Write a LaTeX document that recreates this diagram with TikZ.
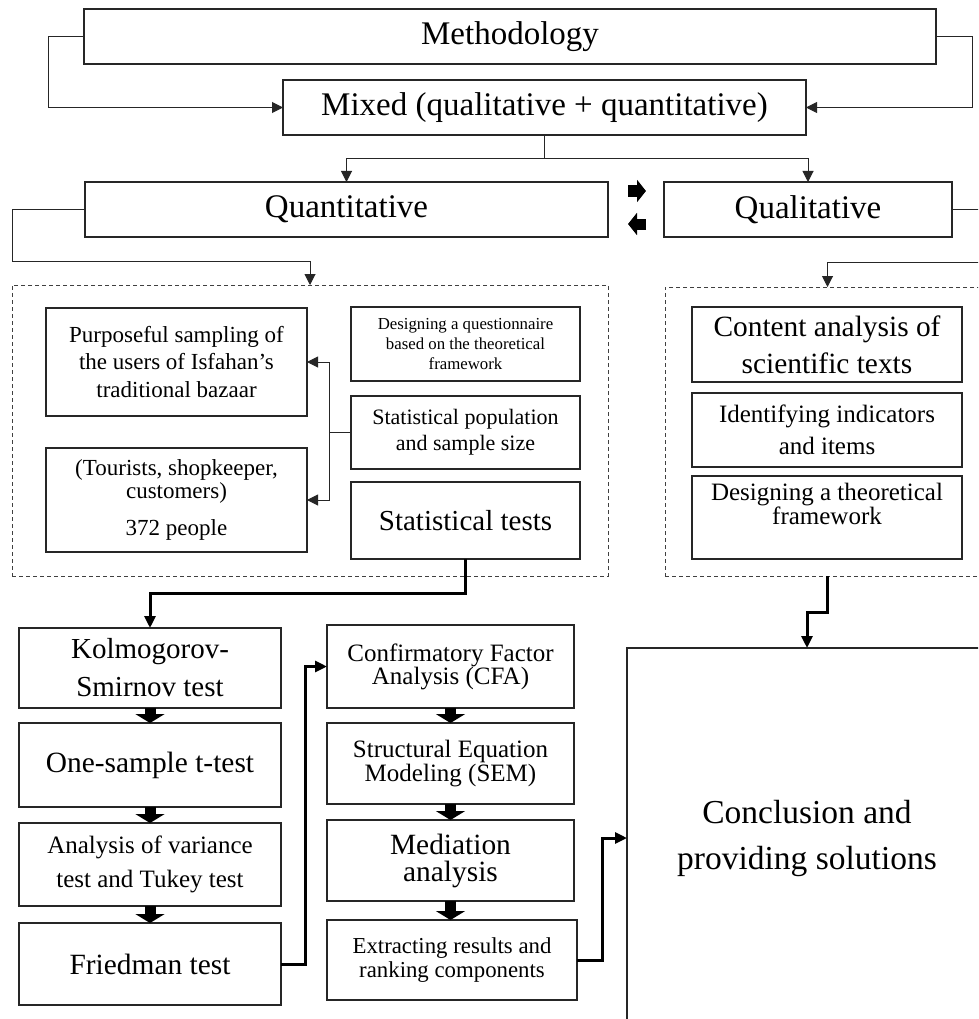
\documentclass[tikz,border=0pt]{standalone}
\usepackage{fontspec}
\setmainfont{Liberation Serif}
\usetikzlibrary{arrows.meta,calc}
\newcommand\myfs[2]{\fontsize{#1}{#2}\selectfont}
\begin{document}
\begin{tikzpicture}[x=1pt,y=-1pt,
  box/.style={draw=black!85, line width=1.2pt, inner sep=2pt, outer sep=0pt, align=center, anchor=center},
  dbox/.style={draw=black!75, line width=1pt, dash pattern=on 4pt off 3pt},
  conn/.style={draw=black!85, line width=1pt, -{Triangle[width=11pt,length=11pt]}},
  plain/.style={draw=black!85, line width=1pt},
  tconn/.style={draw=black, line width=3pt, -{Triangle[width=11pt,length=12pt]}},
  tplain/.style={draw=black, line width=3pt},
  blockarr/.style={draw=black, line width=11pt, -{Triangle[width=29pt,length=9pt]}},
  sideblock/.style={draw=black, line width=11pt, -{Triangle[width=22pt,length=9pt]}}
]
\useasboundingbox (0,0) rectangle (978,1019);
\clip (0,0) rectangle (978,1019);
\fill[white] (0,0) rectangle (978,1019);

% top level
\node[box, line width=2pt, minimum width=852pt, minimum height=55pt, font=\myfs{33}{40}] (meth) at (510,36.5) {Methodology};
\node[box, minimum width=523pt, minimum height=55pt, font=\myfs{33}{40}] (mixed) at (544.5,107.5) {Mixed (qualitative + quantitative)};
\node[box, line width=1.6pt, minimum width=523pt, minimum height=55pt, font=\myfs{33}{40}] (quant) at (346.5,209.5) {Quantitative};
\node[box, line width=1.6pt, minimum width=288pt, minimum height=55pt, font=\myfs{33}{40}] (qual) at (808,209.5) {Qualitative};

% dashed groups
\node[dbox, minimum width=596pt, minimum height=291pt, inner sep=0pt, outer sep=0pt] (qbox) at (310,430.5) {};
\node[dbox, minimum width=325pt, minimum height=289pt, inner sep=0pt, outer sep=0pt] (lbox) at (827.5,431.5) {};

% quantitative inner boxes
\node[box, minimum width=261pt, minimum height=108pt, font=\myfs{23}{27.5}] (purp) at (176.5,362) {Purposeful sampling of\\the users of Isfahan’s\\traditional bazaar};
\node[box, minimum width=261pt, minimum height=104pt, font=\myfs{23}{23}] (tour) at (176.5,500) {(Tourists, shopkeeper,\\customers)\\[14pt]372 people};
\node[box, minimum width=229pt, minimum height=74pt, font=\myfs{16.8}{20}] (quest) at (465.5,344) {Designing a questionnaire\\based on the theoretical\\framework};
\node[box, minimum width=229pt, minimum height=73pt, font=\myfs{22}{26}] (pop) at (465.5,432.5) {Statistical population\\and sample size};
\node[box, minimum width=229pt, minimum height=77pt, font=\myfs{29}{34}] (tests) at (465.5,520.5) {Statistical tests};

% qualitative inner boxes
\node[box, minimum width=270pt, minimum height=75pt, font=\myfs{29.4}{37}] (content) at (827,344.5) {Content analysis of\\scientific texts};
\node[box, minimum width=270pt, minimum height=74pt, font=\myfs{25}{32}] (ident) at (827,430) {Identifying indicators\\and items};
\node[box, minimum width=270pt, minimum height=83pt, font=\myfs{25}{21}] (dtf) at (827,517.5) {Designing a theoretical\\framework\\[6pt]};

% conclusion
\node[box, line width=1.8pt, minimum width=360pt, minimum height=380pt, font=\myfs{33.5}{46}] (concl) at (807,838) {Conclusion and\\providing solutions};

% left column
\node[box, minimum width=262pt, minimum height=80pt, font=\myfs{29}{38}] (kol) at (150,668) {Kolmogorov-\\Smirnov test};
\node[box, minimum width=262pt, minimum height=84pt, font=\myfs{29.4}{34}] (one) at (150,765) {One-sample t-test};
\node[box, minimum width=262pt, minimum height=83pt, font=\myfs{25}{34}] (anova) at (150,864.5) {Analysis of variance\\test and Tukey test};
\node[box, minimum width=262pt, minimum height=82pt, font=\myfs{29.4}{34}] (fried) at (150,964) {Friedman test};

% middle column
\node[box, minimum width=247pt, minimum height=83pt, font=\myfs{25}{23}] (cfa) at (450.5,666.5) {Confirmatory Factor\\Analysis (CFA)};
\node[box, minimum width=247pt, minimum height=81pt, font=\myfs{25}{23.5}] (sem) at (450.5,763.5) {Structural Equation\\Modeling (SEM)};
\node[box, minimum width=247pt, minimum height=81pt, font=\myfs{29.4}{27}] (med) at (450.5,860.5) {Mediation\\analysis};
\node[box, minimum width=250pt, minimum height=80pt, font=\myfs{22.8}{23.5}] (ext) at (452,960) {Extracting results and\\ranking components};

% connectors, top
\draw[conn] (meth.west) -- ++(-36,0) |- (mixed.west);
\draw[conn] (meth.east) -- ++(36,0) |- (mixed.east);
\draw[plain] (mixed.south) -- ++(0,24) coordinate (split);
\draw[conn] (split) -| (quant.north);
\draw[conn] (split) -| (qual.north);
\draw[conn] (quant.west) -| ++(-73,51.5) -| (qbox.north);
\draw[conn] (qual.east) -| ++(40,52.5) -| (lbox.north);

% exchange arrows between quantitative and qualitative
\coordinate (xa1) at ($(quant.east)+(20,-18.5)$);
\coordinate (xa2) at ($(quant.east)+(38,-18.5)$);
\coordinate (xb1) at ($(quant.east)+(38,14.5)$);
\coordinate (xb2) at ($(quant.east)+(20,14.5)$);
\draw[sideblock] (xa1) -- (xa2);
\draw[sideblock] (xb1) -- (xb2);

% sampling connectors
\draw[plain] (pop.west) -- ++(-22,0) coordinate (pj);
\draw[conn] (pj) |- (purp.east);
\draw[conn] (pj) |- (tour.east);

% thick connectors
\draw[tconn] (tests.south) -- ++(0,34) -| (kol.north);
\draw[tconn] (lbox.south) -- ++(0,36) -| (concl.north);
\draw[tconn] (fried.east) -- ++(24,0) |- (cfa.west);
\draw[tconn] (ext.east) -- ++(25,0) |- (concl.west);

% block arrows
\draw[blockarr] (kol.south) -- (kol.south |- one.north);
\draw[blockarr] (one.south) -- (one.south |- anova.north);
\draw[blockarr] (anova.south) -- (anova.south |- fried.north);
\draw[blockarr] (cfa.south) -- (cfa.south |- sem.north);
\draw[blockarr] (sem.south) -- (sem.south |- med.north);
\draw[blockarr] (med.south) -- (med.south |- ext.north);
\end{tikzpicture}
\end{document}
